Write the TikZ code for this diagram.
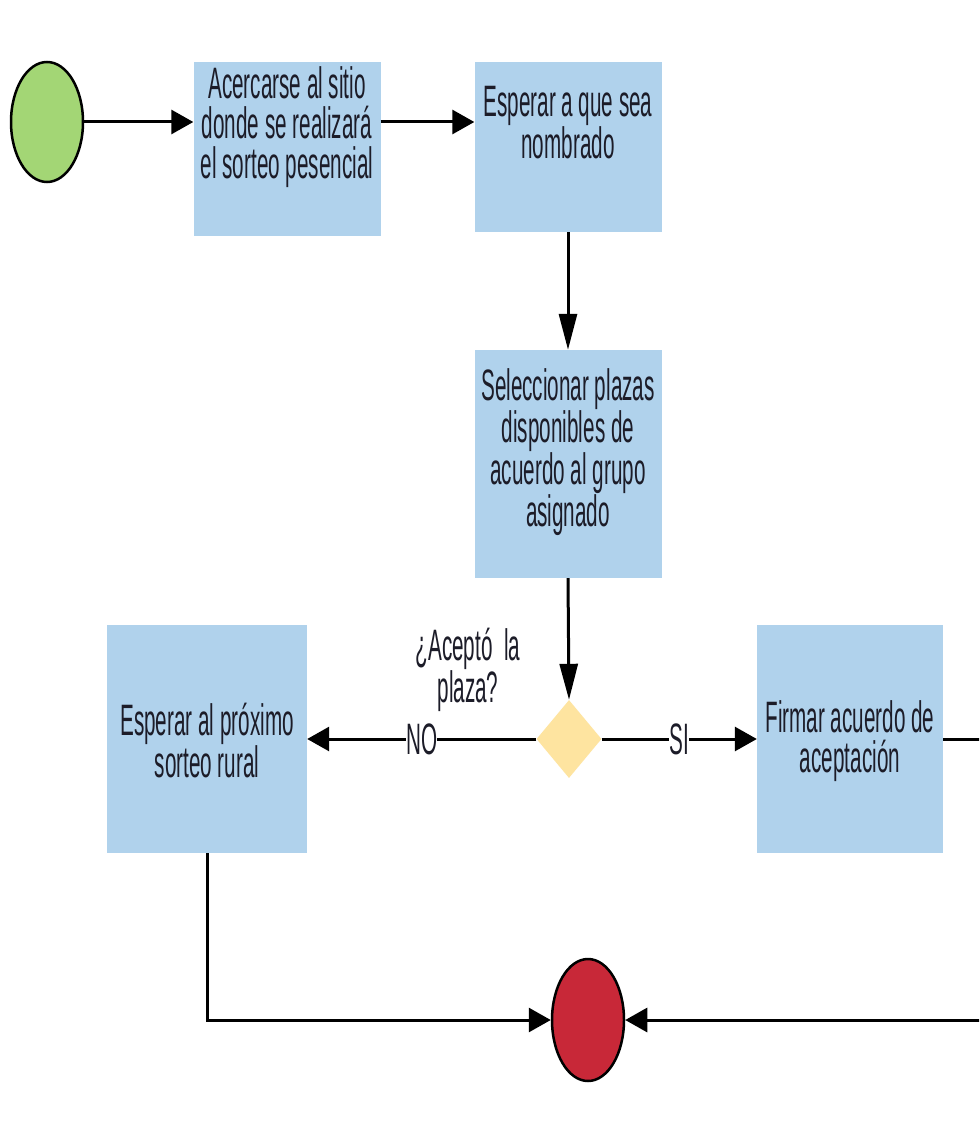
\documentclass[tikz,border=0pt]{standalone}
\usepackage{fontspec}
\setmainfont{Liberation Sans}[FakeStretch=0.47]
\usetikzlibrary{shapes.geometric,arrows.meta}

\definecolor{cajaazul}{RGB}{176,210,236}
\definecolor{verdeini}{RGB}{163,214,117}
\definecolor{rojofin}{RGB}{200,40,56}
\definecolor{rombo}{RGB}{254,228,160}
\definecolor{tinta}{RGB}{28,28,40}

\tikzset{
paso/.style={rectangle,fill=cajaazul,inner sep=0pt,minimum width=187pt},
texto/.style={align=center,text=tinta,inner sep=0pt},
extremo/.style={ellipse,draw,line width=2.5pt,minimum width=72pt,minimum height=120pt,inner sep=0pt},
linea/.style={line width=3pt},
flechah/.style={linea,-{Triangle[length=22pt,width=24pt]}},
flechav/.style={linea,-{Triangle[length=36pt,width=18pt]}}
}

\begin{document}
\begin{tikzpicture}[x=1pt,y=-1pt,font=\fontsize{44}{40}\selectfont]
\useasboundingbox (0,0) rectangle (979,1131);
\clip (0,0) rectangle (979,1131);
\fill[white] (0,0) rectangle (979,1131);
\node[extremo,fill=verdeini] (inicio) at (47,122) {};
\node[paso,minimum height=174pt,label={[texto,yshift=22pt]center:Acercarse al sitio\\donde se realizará\\el sorteo pesencial}] (acercarse) at (287,149) {};
\node[paso,minimum height=170pt,label={[texto,yshift=24pt]center:Esperar a que sea\\nombrado}] (esperar) at (568,147) {};
\node[paso,minimum height=228pt,label={[texto,yshift=12pt]center:Seleccionar plazas\\disponibles de\\acuerdo al grupo\\asignado}] (seleccionar) at (568,464) {};
\node[diamond,fill=rombo,minimum width=65pt,minimum height=78pt,inner sep=0pt] (acepto) at (569,739) {};
\node[texto] (pregunta) at (468,670) {¿Aceptó\ \ la\\plaza?};
\node[paso,minimum width=200pt,minimum height=228pt,label={[texto,yshift=-2pt]center:Esperar al próximo\\sorteo rural}] (proximo) at (207,739) {};
\node[paso,minimum width=186pt,minimum height=228pt,label={[texto,yshift=-2pt]center:Firmar acuerdo de\\aceptación}] (firmar) at (850,739) {};
\node[extremo,fill=rojofin,minimum height=122pt] (fin) at (588,1020) {};
\coordinate (giro) at (1000,1020);
\draw[flechah] (inicio.east) -- (inicio.east -| acercarse.west);
\draw[flechah] (acercarse.east |- inicio) -- (esperar.west |- inicio);
\draw[flechav] (esperar.south) -- (seleccionar.north);
\draw[flechav] (seleccionar.south) -- (acepto.north);
\draw[flechah] (acepto.west) -- node[fill=white,inner sep=0pt,text=tinta] {NO} (proximo.east);
\draw[flechah] (acepto.east) -- node[fill=white,inner sep=0pt,text=tinta] {SI} (firmar.west);
\draw[flechah] (proximo.south) |- (fin.west);
\draw[flechah] (firmar.east) -| (giro) -- (fin.east);
\end{tikzpicture}
\end{document}
